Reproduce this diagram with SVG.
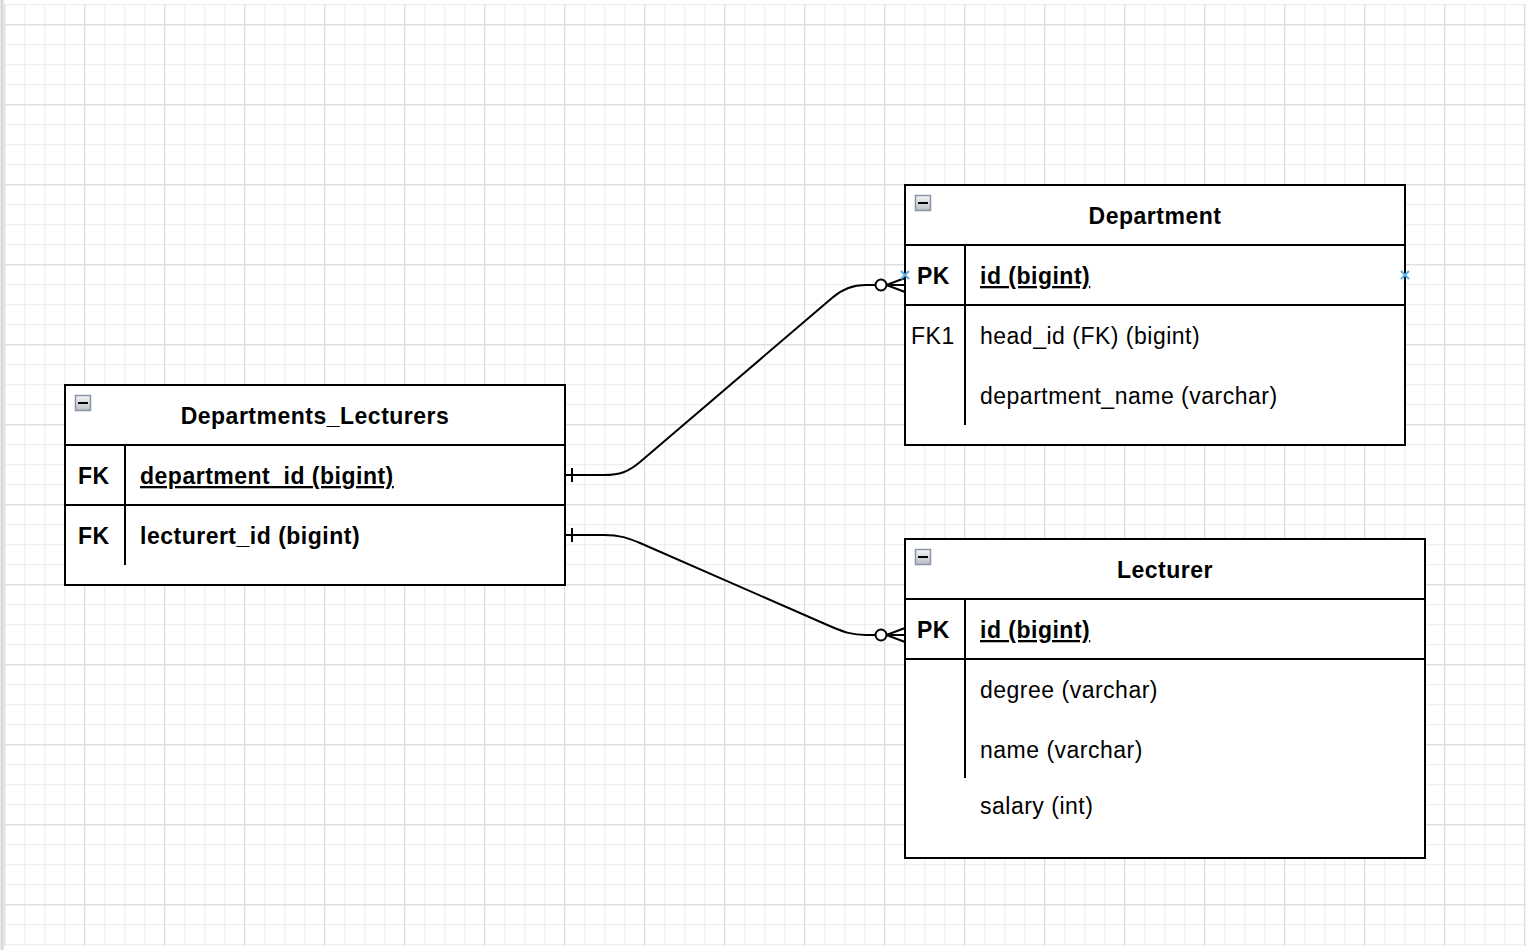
<svg xmlns="http://www.w3.org/2000/svg" width="1530" height="950" viewBox="0 0 1530 950">
<defs>
<pattern id="minor" x="4" y="4" width="20" height="20" patternUnits="userSpaceOnUse">
<path d="M0.5 0V20M0 0.5H20" fill="none" stroke="#f0f0f0" stroke-width="1.5"/>
</pattern>
<pattern id="major" x="4" y="24" width="80" height="80" patternUnits="userSpaceOnUse">
<path d="M0.5 0V80M0 0.5H80" fill="none" stroke="#dedede" stroke-width="1.5"/>
</pattern>
<linearGradient id="ig" x1="0" y1="0" x2="0" y2="1">
<stop offset="0" stop-color="#f4f5f7"/>
<stop offset="1" stop-color="#b9bdc4"/>
</linearGradient>
<g id="icon">
<rect x="0.5" y="0.5" width="15" height="15" fill="url(#ig)" stroke="#8a94a6" stroke-width="1.5"/>
<path d="M3 8H13" stroke="#000" stroke-width="2"/>
</g>
</defs>
<style>
.box{fill:#fff;stroke:#000;stroke-width:2}
.ln{stroke:#000;stroke-width:2;fill:none}
.t{font-family:"Liberation Sans",Arial,Helvetica,sans-serif;font-size:23px;letter-spacing:0.5px;fill:#000}
.b{font-weight:bold}
.u{text-decoration:underline}
.c{text-anchor:middle}
.edge{fill:none;stroke:#000;stroke-width:2}
.hov{stroke:#5aaee6;stroke-width:2}
</style>
<rect width="1530" height="950" fill="#fff"/>
<rect x="4" y="4" width="1522" height="942" fill="url(#minor)"/>
<rect x="4" y="4" width="1522" height="942" fill="url(#major)"/>
<path d="M2 0V950" stroke="#d8d8d8" stroke-width="3"/>

<g id="connectors">
<path class="edge" d="M565 475H604C620 475 628 472 640 462L832 298C842 289 852 285 866 285H876"/>
<path class="edge" d="M572 468V482"/>
<circle cx="881" cy="285" r="5.5" fill="#fff" stroke="#000" stroke-width="2"/>
<path class="edge" d="M886.5 285L905 278M886.5 285L905 292M886.5 285H905"/>
<path class="edge" d="M565 535H604C620 535 628 538 640 543L832 627C844 632 852 635 866 635H876"/>
<path class="edge" d="M572 528V542"/>
<circle cx="881" cy="635" r="5.5" fill="#fff" stroke="#000" stroke-width="2"/>
<path class="edge" d="M886.5 635L905 628M886.5 635L905 642M886.5 635H905"/>
</g>

<g id="departments_lecturers">
<rect class="box" x="65" y="385" width="500" height="200"/>
<path class="ln" d="M65 445H565M65 505H565M125 445V565"/>
<use href="#icon" x="75" y="395"/>
<text class="t b c" x="315" y="424">Departments_Lecturers</text>
<text class="t b" x="78" y="484">FK</text>
<text class="t b u" x="140" y="484">department_id (bigint)</text>
<text class="t b" x="78" y="544">FK</text>
<text class="t b" x="140" y="544">lecturert_id (bigint)</text>
</g>

<g id="department">
<rect class="box" x="905" y="185" width="500" height="260"/>
<path class="ln" d="M905 245H1405M905 305H1405M965 245V425"/>
<use href="#icon" x="915" y="195"/>
<text class="t b c" x="1155" y="224">Department</text>
<text class="t b" x="917" y="284">PK</text>
<text class="t b u" x="980" y="284">id (bigint)</text>
<text class="t" x="911" y="344">FK1</text>
<text class="t" x="980" y="344">head_id (FK) (bigint)</text>
<text class="t" x="980" y="404">department_name (varchar)</text>
<path class="hov" d="M901 271L909 279M909 271L901 279M1401 271L1409 279M1409 271L1401 279"/>
</g>

<g id="lecturer">
<rect class="box" x="905" y="539" width="520" height="319"/>
<path class="ln" d="M905 599H1425M905 659H1425M965 599V778"/>
<use href="#icon" x="915" y="549"/>
<text class="t b c" x="1165" y="578">Lecturer</text>
<text class="t b" x="917" y="638">PK</text>
<text class="t b u" x="980" y="638">id (bigint)</text>
<text class="t" x="980" y="698">degree (varchar)</text>
<text class="t" x="980" y="758">name (varchar)</text>
<text class="t" x="980" y="814">salary (int)</text>
</g>
</svg>
